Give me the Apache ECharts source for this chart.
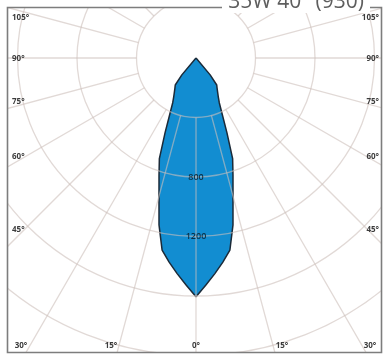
<!DOCTYPE html>
<html>
<head>
<meta charset="utf-8">
<script src="https://cdn.jsdelivr.net/npm/echarts@6/dist/echarts.min.js"></script>
<style>
html,body{margin:0;padding:0;background:#fff;}
#chart{width:384px;height:354px;}
</style>
</head>
<body>
<div id="chart"></div>
<script>
// Angles (deg, 0 = straight down) and luminous intensity (cd)
const angles = [-45,-42.5,-40,-37.5,-35,-32.5,-30,-27.5,-25,-22.5,-20,-17.5,-15,-12.5,-10,-7.5,-5,-2.5,0,2.5,5,7.5,10,12.5,15,17.5,20,22.5,25,27.5,30,32.5,35,37.5,40,42.5,45];
const intensity = [0,0,148,229,247,270,299,339,417,543,720,827,961,1149,1312,1384,1455,1527,1605,1527,1455,1384,1312,1149,961,827,720,543,417,339,299,270,247,229,148,0,0];
const radialLabels = [800, 1200];
const sideLabels = ['105°','90°','75°','60°','45°'];
const bottomLabels = ['30°','15°','0°','15°','30°'];
const titleText = '35W 40° (930)';

// layout
const cx = 196, cy = 58, pxPer400 = 59.5;
const rMax = 2400;
const Rpx = rMax / 400 * pxPer400;
const sideY = [18, 59, 102, 157, 230];
const bottomX = [21, 111, 196, 282, 370];
const gridColor = 'rgba(205,192,186,0.6)';

const chart = echarts.init(document.getElementById('chart'), null, {renderer:'canvas'});

const graphics = [];
// masks outside frame
graphics.push({type:'rect', z:100, shape:{x:0,y:0,width:384,height:7}, style:{fill:'#fff'}});
graphics.push({type:'rect', z:100, shape:{x:0,y:353,width:384,height:2}, style:{fill:'#fff'}});
graphics.push({type:'rect', z:100, shape:{x:0,y:0,width:7,height:354}, style:{fill:'#fff'}});
graphics.push({type:'rect', z:100, shape:{x:382,y:0,width:2,height:354}, style:{fill:'#fff'}});
// frame
graphics.push({type:'rect', z:101, shape:{x:7.5,y:7.5,width:374,height:345}, style:{fill:'none', stroke:'#7d7d7d', lineWidth:1.6}});
// title with white background
graphics.push({type:'rect', z:102, shape:{x:222,y:0,width:148,height:13}, style:{fill:'#fff'}});
graphics.push({type:'text', z:103, style:{text:titleText, x:364, y:2, align:'right', verticalAlign:'middle', fill:'#5e5e5e', font:'21px "Open Sans", sans-serif'}});
sideLabels.forEach((t,i)=>{
  graphics.push({type:'text', z:103, style:{text:t, x:12, y:sideY[i], align:'left', verticalAlign:'middle', fill:'#3c3c3c', font:'bold 8px "Open Sans", sans-serif'}});
  graphics.push({type:'text', z:103, style:{text:t, x:379, y:sideY[i], align:'right', verticalAlign:'middle', fill:'#3c3c3c', font:'bold 8px "Open Sans", sans-serif'}});
});
bottomLabels.forEach((t,i)=>{
  graphics.push({type:'text', z:103, style:{text:t, x:bottomX[i], y:346, align:'center', verticalAlign:'middle', fill:'#3c3c3c', font:'bold 8px "Open Sans", sans-serif'}});
});

const option = {
  animation:false,
  backgroundColor:'#fff',
  polar:[
    {center:[cx,cy], radius:[0,Rpx]},
    {center:[cx,cy], radius:[pxPer400,Rpx]}
  ],
  angleAxis:[
    {polarIndex:0, type:'value', min:-180, max:180, startAngle:90, clockwise:true, show:false},
    {polarIndex:1, type:'value', min:-180, max:180, interval:15, startAngle:90, clockwise:true, z:10,
     axisLine:{show:false}, axisTick:{show:false}, axisLabel:{show:false},
     splitLine:{show:true, lineStyle:{color:gridColor, width:1.3}}}
  ],
  radiusAxis:[
    {polarIndex:0, type:'value', min:0, max:rMax, show:false},
    {polarIndex:1, type:'value', min:400, max:rMax, interval:400, z:10,
     axisLine:{show:false}, axisTick:{show:false}, axisLabel:{show:false},
     splitLine:{show:true, lineStyle:{color:gridColor, width:1.3}}}
  ],
  series:[
    {type:'line', coordinateSystem:'polar', polarIndex:0, clip:false, symbol:'none', smooth:false, z:2,
     data: angles.map((a,i)=>[intensity[i], a]),
     lineStyle:{color:'#1b2a38', width:1.5},
     areaStyle:{color:'#128dd1', opacity:1}},
    {type:'scatter', coordinateSystem:'polar', polarIndex:0, z:20, symbolSize:1,
     itemStyle:{color:'rgba(0,0,0,0)'},
     data: radialLabels.map(v=>[v,0]),
     label:{show:true, position:'inside', formatter:p=>String(p.value[0]), color:'#0b1620', fontSize:9, fontWeight:600, textBorderWidth:0, fontFamily:'"Open Sans", sans-serif'}}
  ],
  graphic: graphics
};
chart.setOption(option);
</script>
</body>
</html>
